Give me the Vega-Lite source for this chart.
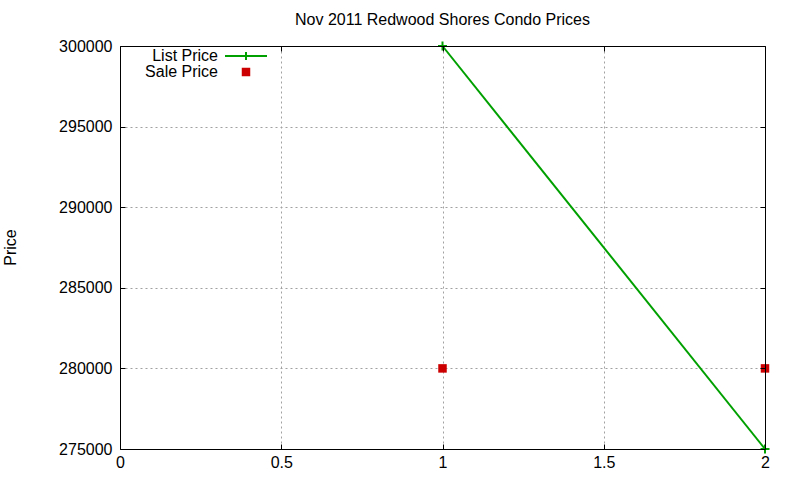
{
  "$schema": "https://vega.github.io/schema/vega-lite/v6.json",
  "description": "Nov 2011 Redwood Shores condo list and sale prices.",
  "autosize": "none",
  "width": 645,
  "height": 403,
  "padding": {"left": 120, "top": 46, "right": 35, "bottom": 31},
  "background": "white",
  "title": {
    "text": "Nov 2011 Redwood Shores Condo Prices",
    "font": "Liberation Sans",
    "fontSize": 16,
    "fontWeight": "normal",
    "color": "black",
    "anchor": "middle",
    "frame": "group",
    "baseline": "alphabetic",
    "offset": -3
  },
  "data": {
    "values": [
      {"series": "List Price", "x": 1, "price": 300000},
      {"series": "List Price", "x": 2, "price": 275000},
      {"series": "Sale Price", "x": 1, "price": 280000},
      {"series": "Sale Price", "x": 2, "price": 280000}
    ]
  },
  "resolve": {
    "axis": {"x": "independent", "y": "independent"},
    "scale": {"color": "independent"},
    "legend": {"color": "independent"}
  },
  "layer": [
    {
      "transform": [{"filter": "datum.series == 'List Price'"}],
      "mark": {
        "type": "line",
        "strokeWidth": 2,
        "point": {
          "shape": "M-0.9,-0.2H0.9V0.2H-0.9Z M-0.2,-0.9H0.2V0.9H-0.2Z",
          "filled": true,
          "size": 100,
          "opacity": 1,
          "color": "#00a000"
        }
      },
      "encoding": {
        "x": {
          "field": "x",
          "type": "quantitative",
          "scale": {"domain": [0, 2], "nice": false, "zero": false},
          "axis": {
            "orient": "bottom",
            "values": [0, 0.5, 1, 1.5, 2],
            "labelExpr": "'' + datum.value",
            "title": null,
            "grid": true,
            "gridDash": [2, 3],
            "gridColor": {"condition": {"test": "datum.value == 0 || datum.value == 2", "value": "transparent"}, "value": "#a0a0a0"},
            "tickSize": -5,
            "labelPadding": 10,
            "labelFlush": false,
            "zindex": 0
          }
        },
        "y": {
          "field": "price",
          "type": "quantitative",
          "scale": {"domain": [275000, 300000], "nice": false, "zero": false},
          "axis": {
            "orient": "left",
            "values": [275000, 280000, 285000, 290000, 295000, 300000],
            "format": "d",
            "title": "Price",
            "titleFont": "Liberation Sans",
            "titleFontSize": 16,
            "titleFontWeight": "normal",
            "titleColor": "black",
            "titleX": -110,
            "titleY": 201,
            "titleAngle": 270,
            "titleAlign": "center",
            "titleBaseline": "middle",
            "grid": true,
            "gridDash": [2, 3],
            "gridColor": {"condition": {"test": "datum.value == 275000 || datum.value == 300000", "value": "transparent"}, "value": "#a0a0a0"},
            "tickSize": -5,
            "labelPadding": 13,
            "labelFlush": false,
            "zindex": 0
          }
        },
        "color": {
          "field": "series",
          "type": "nominal",
          "scale": {"domain": ["List Price"], "range": ["#00a000"]},
          "legend": {
            "title": null,
            "orient": "none",
            "legendX": 118,
            "legendY": 2,
            "padding": 0,
            "symbolType": "M-4.2,0H4.2M0,-0.8V0.8",
            "symbolSize": 100,
            "symbolStrokeWidth": 2,
            "symbolFillColor": "transparent",
            "labelAlign": "right",
            "labelOffset": -36,
            "labelFont": "Liberation Sans",
            "labelFontSize": 16,
            "labelColor": "black",
            "labelLimit": 0
          }
        }
      }
    },
    {
      "transform": [{"filter": "datum.series == 'Sale Price'"}],
      "mark": {
        "type": "point",
        "filled": true,
        "opacity": 1,
        "size": 100,
        "shape": "M-0.85,-0.85H0.85V0.85H-0.85Z"
      },
      "encoding": {
        "x": {
          "field": "x",
          "type": "quantitative",
          "scale": {"domain": [0, 2], "nice": false, "zero": false},
          "axis": {
            "orient": "top",
            "values": [0, 0.5, 1, 1.5, 2],
            "labels": false,
            "title": null,
            "grid": false,
            "tickSize": -5,
            "zindex": 1
          }
        },
        "y": {
          "field": "price",
          "type": "quantitative",
          "scale": {"domain": [275000, 300000], "nice": false, "zero": false},
          "axis": {
            "orient": "right",
            "values": [275000, 280000, 285000, 290000, 295000, 300000],
            "labels": false,
            "title": null,
            "grid": false,
            "tickSize": -5,
            "zindex": 1
          }
        },
        "color": {
          "field": "series",
          "type": "nominal",
          "scale": {"domain": ["Sale Price"], "range": ["#cc0000"]},
          "legend": {
            "title": null,
            "orient": "none",
            "legendX": 118,
            "legendY": 18,
            "padding": 0,
            "symbolType": "M-0.85,-0.85H0.85V0.85H-0.85Z",
            "symbolSize": 100,
            "symbolStrokeWidth": 0,
            "labelAlign": "right",
            "labelOffset": -36,
            "labelFont": "Liberation Sans",
            "labelFontSize": 16,
            "labelColor": "black",
            "labelLimit": 0
          }
        }
      }
    }
  ],
  "config": {
    "view": {"stroke": null},
    "axis": {
      "labelFont": "Liberation Sans",
      "labelFontSize": 16,
      "labelColor": "black",
      "domainColor": "black",
      "domainWidth": 1,
      "tickColor": "black",
      "tickWidth": 1,
      "gridWidth": 1
    }
  }
}
